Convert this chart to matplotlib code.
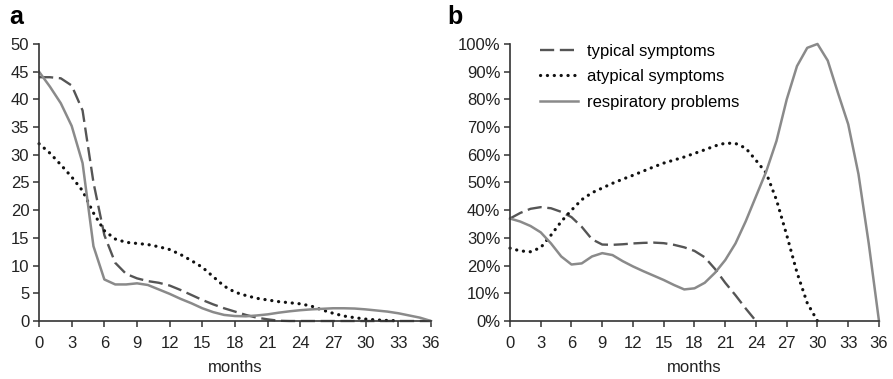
import matplotlib
matplotlib.use('Agg')
import matplotlib.pyplot as plt
from matplotlib.ticker import PercentFormatter

plt.rcParams['font.family'] = ['Liberation Sans', 'DejaVu Sans']

# months (one reading per month)
months = list(range(0, 37))

# panel a: number of patients
typ_a = [44, 44, 43.8, 42.5, 38, 25, 15.5, 10.5, 8.5, 7.7, 7.2, 6.9, 6.4, 5.6, 4.7,
         3.8, 3.0, 2.3, 1.7, 1.1, 0.6, 0.3, 0.05, 0, 0, 0, 0, 0, 0, 0, 0, 0, 0, 0, 0, 0, 0]
atyp_a = [32, 30.3, 28.2, 26, 23.5, 19.5, 16.3, 14.8, 14.2, 14, 13.8, 13.4, 12.9, 12.0,
          10.9, 9.7, 8.0, 6.3, 5.2, 4.6, 4.1, 3.8, 3.5, 3.3, 3.1, 2.7, 2.0, 1.4, 0.9,
          0.6, 0.35, 0.2, 0.1, 0.05]
resp_a = [45, 42.3, 39.3, 35.2, 28.5, 13.5, 7.5, 6.6, 6.6, 6.8, 6.5, 5.7, 4.9, 4.0, 3.2,
          2.3, 1.6, 1.1, 0.9, 0.85, 1.0, 1.2, 1.5, 1.75, 1.95, 2.1, 2.2, 2.3, 2.3, 2.25,
          2.1, 1.9, 1.7, 1.4, 1.0, 0.6, 0]

# panel b: percentage
typ_b = [37, 39, 40.5, 41.1, 40.7, 39.4, 37.5, 34, 29.5, 27.6, 27.5, 27.7, 28, 28.2,
         28.3, 28.1, 27.5, 26.6, 25.3, 23.0, 18.8, 13.8, 9.3, 4.5, 0]
atyp_b = [26.3, 25.3, 25, 26.5, 31, 35.9, 40, 43.8, 46.3, 48, 49.7, 51.2, 52.6, 54.1,
          55.6, 57, 58.1, 59.2, 60.5, 61.8, 63.2, 64.2, 64.1, 62.4, 58, 53.4, 43.7,
          31, 17.5, 6.5, 0]
resp_b = [37, 35.9, 34.3, 32, 28, 23.3, 20.4, 20.8, 23.3, 24.5, 23.8, 21.6, 19.7, 18,
          16.4, 14.8, 13, 11.4, 11.8, 13.8, 17.4, 22, 28, 36, 45, 54, 65, 80, 92, 98.6,
          100, 94, 82.3, 71, 53, 28, 0]

labels = ['typical symptoms', 'atypical symptoms', 'respiratory problems']
xticks = list(range(0, 37, 3))

dash_kw = dict(color='#555555', lw=1.7, dashes=(6.0, 2.4))
dot_kw = dict(color='#111111', lw=2.3, dashes=(0.05, 2.1), dash_capstyle='round')
solid_kw = dict(color='#8a8a8a', lw=1.8)

fig = plt.figure(figsize=(8.93, 3.79), dpi=100)
ax1 = fig.add_axes([0.0437, 0.153, 0.4389, 0.731])
ax2 = fig.add_axes([0.5711, 0.153, 0.4132, 0.731])

ax1.plot(months[:len(typ_a)], typ_a, **dash_kw)
ax1.plot(months[:len(atyp_a)], atyp_a, **dot_kw)
ax1.plot(months[:len(resp_a)], resp_a, **solid_kw)
ax1.set_ylim(0, 50)
ax1.set_yticks(range(0, 51, 5))

ax2.plot(months[:len(typ_b)], typ_b, label=labels[0], **dash_kw)
ax2.plot(months[:len(atyp_b)], atyp_b, label=labels[1], **dot_kw)
ax2.plot(months[:len(resp_b)], resp_b, label=labels[2], **solid_kw)
ax2.set_ylim(0, 100)
ax2.set_yticks(range(0, 101, 10))
ax2.yaxis.set_major_formatter(PercentFormatter(decimals=0))
ax2.legend(loc='upper left', bbox_to_anchor=(0.063, 1.025), frameon=False, fontsize=12,
           handlelength=2.3, handletextpad=0.5, labelspacing=0.63, borderaxespad=0)

for ax in (ax1, ax2):
    ax.set_xlim(0, 36)
    ax.set_xticks(xticks)
    ax.set_xlabel('months', fontsize=12, color='#222222', labelpad=7)
    for s in ('top', 'right'):
        ax.spines[s].set_visible(False)
    for s in ('left', 'bottom'):
        ax.spines[s].set_color('#333333')
        ax.spines[s].set_linewidth(1.2)
    ax.tick_params(direction='out', length=4, width=1.1, color='#333333',
                   labelsize=12, labelcolor='#222222', pad=3)
    ax.tick_params(axis='x', pad=6.5)
    for line in ax.get_lines():
        line.set_clip_on(False)

fig.text(0.010, 0.955, 'a', fontsize=18, fontweight='bold', va='center')
fig.text(0.501, 0.955, 'b', fontsize=18, fontweight='bold', va='center')

fig.savefig('out.png', dpi=100)
